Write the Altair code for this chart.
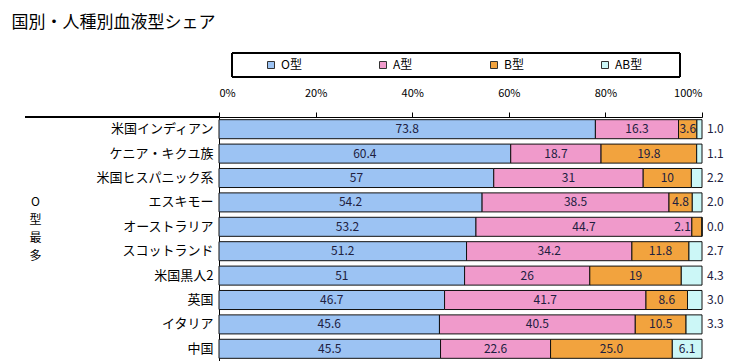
import altair as alt
import pandas as pd

# ---- data ----
countries = ["米国インディアン", "ケニア・キクユ族", "米国ヒスパニック系", "エスキモー",
             "オーストラリア", "スコットランド", "米国黒人2", "英国", "イタリア", "中国"]
types = ["O型", "A型", "B型", "AB型"]
o_vals = ["73.8", "60.4", "57", "54.2", "53.2", "51.2", "51", "46.7", "45.6", "45.5"]
a_vals = ["16.3", "18.7", "31", "38.5", "44.7", "34.2", "26", "41.7", "40.5", "22.6"]
b_vals = ["3.6", "19.8", "10", "4.8", "2.1", "11.8", "19", "8.6", "10.5", "25.0"]
ab_vals = ["1.0", "1.1", "2.2", "2.0", "0.0", "2.7", "4.3", "3.0", "3.3", "6.1"]
colors = ["#9CC3F3", "#F09ACB", "#F2A33E", "#CCF7F7"]
x_ticks = [0, 0.2, 0.4, 0.6, 0.8, 1.0]

rows = []
for i, c in enumerate(countries):
    for k, (t, vals) in enumerate(zip(types, [o_vals, a_vals, b_vals, ab_vals])):
        rows.append({"country": c, "type": t, "order": k,
                     "value": float(vals[i]), "label": vals[i]})
df = pd.DataFrame(rows)

FONT = "Noto Sans CJK JP"

base = alt.Chart(df).transform_stack(
    stack="value", groupby=["country"], as_=["v0", "v1"],
    offset="normalize", sort=[alt.SortField("order", "ascending")]
).transform_calculate(
    mid="(datum.v0 + datum.v1) / 2",
    pos="datum.type == 'AB型' ? (datum.value < 5 ? 'right' : 'mid') : (datum.value < 3 ? 'left' : 'mid')"
)

y_enc = alt.Y("country:N", sort=countries,
              scale=alt.Scale(paddingInner=0.22, paddingOuter=0.11),
              axis=alt.Axis(title=["O", "型", "最", "多"], titleAngle=0,
                            titleX=-184, titleY=84, titleAlign="center",
                            titleBaseline="middle", titleFontSize=12,
                            titleFontWeight="normal", titleLineHeight=18,
                            titleFont=FONT, titleColor="black",
                            ticks=False, domainColor="black", labelColor="black",
                            labelFont=FONT, labelFontSize=13, labelPadding=6,
                            labelLimit=220))

bars = base.mark_bar(stroke="#111111", strokeWidth=1).encode(
    x=alt.X("v0:Q", scale=alt.Scale(domain=[0, 1]),
            axis=alt.Axis(orient="top", values=x_ticks, format=".0%", grid=False,
                          tickSize=5, tickColor="black", domainColor="black",
                          labelColor="black", labelFont=FONT, labelFontSize=11,
                          labelPadding=14, title=None)),
    x2="v1:Q",
    y=y_enc,
    color=alt.Color("type:N", scale=alt.Scale(domain=types, range=colors),
                    legend=alt.Legend(orient="none", legendX=46, legendY=-58,
                                      direction="horizontal", columns=4,
                                      title=None, padding=0,
                                      symbolType="square", symbolSize=49,
                                      symbolStrokeColor="#333333", symbolStrokeWidth=1,
                                      labelFont=FONT, labelFontSize=12, labelColor="black",
                                      labelOffset=4, columnPadding=75)),
)

txt_y = alt.Y("country:N", sort=countries)

mid_txt = base.transform_filter("datum.pos == 'mid'").mark_text(
    font=FONT, fontSize=12, color="#202040", align="center", baseline="middle"
).encode(x="mid:Q", y=txt_y, text="label:N")

right_txt = base.transform_filter("datum.pos == 'right'").mark_text(
    font=FONT, fontSize=12, color="#202040", align="left", baseline="middle", dx=5
).encode(x="v1:Q", y=txt_y, text="label:N")

left_txt = base.transform_filter("datum.pos == 'left'").mark_text(
    font=FONT, fontSize=12, color="#202040", align="right", baseline="middle", dx=-1
).encode(x="v0:Q", y=txt_y, text="label:N")

# decorations: category-group line and legend frame
left_rule = alt.Chart(df).mark_rule(color="black", strokeWidth=1).encode(
    x=alt.value(-194), x2=alt.value(0), y=alt.value(0))
legend_box = alt.Chart(df).mark_rect(fill=None, stroke="black", strokeWidth=1).encode(
    x=alt.value(13), x2=alt.value(461), y=alt.value(-64), y2=alt.value(-40))

chart = alt.layer(bars, mid_txt, right_txt, left_txt, left_rule, legend_box).properties(
    width=483, height=244,
    autosize=alt.AutoSizeParams(type="none"),
    padding={"left": 211, "top": 109, "right": 40, "bottom": 0},
    title=alt.TitleParams("国別・人種別血液型シェア", anchor="start", frame="bounds",
                          dx=-13, dy=-17,
                          font=FONT, fontSize=17, fontWeight="normal", color="black"),
).configure_view(stroke=None)

chart.save("out.html", embed_options={"renderer": "svg", "actions": False})
